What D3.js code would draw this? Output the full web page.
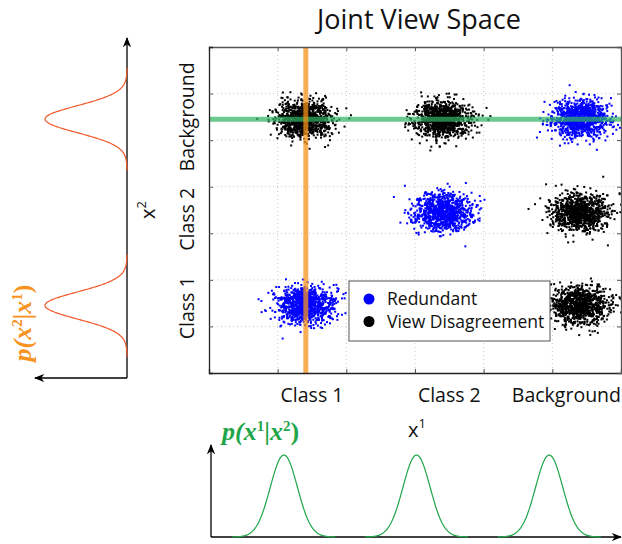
<!DOCTYPE html>
<html>
<head>
<meta charset="utf-8">
<script src="https://cdn.jsdelivr.net/npm/d3@7"></script>
<style>
  html, body { margin: 0; padding: 0; background: #fff; }
  svg { display: block; font-family: "Open Sans", "DejaVu Sans", sans-serif; }
</style>
</head>
<body>
<div id="chart"></div>
<script>
// ---------------- data ----------------
const title = "Joint View Space";
const xCategories = ["Class 1", "Class 2", "Background"];
const yCategories = ["Class 1", "Class 2", "Background"];
const xTickLabelAt = [1.5, 3.5, 5.5];
const yTickLabelAt = [1.4, 3.3, 5.5];
const gridTicks = [1, 2, 3, 4, 5, 6];
// sample clouds: centre (x1, x2), kind
const clusterX = [1.4, 3.4, 5.4, 3.4, 5.4, 1.4, 5.4];
const clusterY = [5.45, 5.45, 5.45, 3.45, 3.45, 1.45, 1.45];
const clusterKind = ["disagree", "disagree", "redundant", "redundant", "disagree", "redundant", "disagree"];
const clusterSigmaX = 0.205;
const clusterSigmaY = 0.195;
const pointsPerCluster = 1000;
const legendLabels = ["Redundant", "View Disagreement"];
const legendKinds = ["redundant", "disagree"];
// conditioning lines
const conditionX1 = 1.41;   // orange vertical line
const conditionX2 = 5.45;   // green horizontal line
// marginal conditional densities
const leftPeaks = [1.45, 5.45];     // p(x2|x1) peaks, in x2 units
const leftSigma = 0.29;
const bottomPeaks = [1.4, 3.4, 5.4]; // p(x1|x2) peaks, in x1 units
const bottomSigma = 0.205;

// ---------------- layout ----------------
const W = 622, H = 544;
const plot = { left: 209, right: 621, top: 47, bottom: 373 };
const kindColor = { redundant: "#0000ff", disagree: "#000000" };

const svg = d3.select("#chart").append("svg").attr("width", W).attr("height", H);

const x = d3.scaleLinear().domain([0, 6]).range([plot.left, plot.right]);
const y = d3.scaleLinear().domain([0, 7]).range([plot.bottom, plot.top]);

// title
svg.append("text").attr("x", 419).attr("y", 29).attr("text-anchor", "middle")
  .attr("font-size", 27).attr("fill", "#111").text(title);

// grid
const g = svg.append("g");
g.selectAll(".vg").data(gridTicks.slice(0, 5)).join("line")
  .attr("x1", d => x(d)).attr("x2", d => x(d)).attr("y1", plot.top).attr("y2", plot.bottom)
  .attr("stroke", "#c8c8c8").attr("stroke-width", 1).attr("stroke-dasharray", "1,3");
g.selectAll(".hg").data(gridTicks).join("line")
  .attr("y1", d => y(d)).attr("y2", d => y(d)).attr("x1", plot.left).attr("x2", plot.right)
  .attr("stroke", "#c8c8c8").attr("stroke-width", 1).attr("stroke-dasharray", "1,3");

// scatter clouds (deterministic seeded normal samples)
svg.append("clipPath").attr("id", "pc").append("rect")
  .attr("x", plot.left).attr("y", plot.top).attr("width", plot.right - plot.left).attr("height", plot.bottom - plot.top);
const pts = [];
clusterX.forEach((cx, i) => {
  const rx = d3.randomNormal.source(d3.randomLcg(0.11 + i * 0.07))(cx, clusterSigmaX);
  const ry = d3.randomNormal.source(d3.randomLcg(0.53 + i * 0.05))(clusterY[i], clusterSigmaY);
  for (let k = 0; k < pointsPerCluster; k++) pts.push({ x: rx(), y: ry(), kind: clusterKind[i] });
});
svg.append("g").attr("clip-path", "url(#pc)").selectAll("rect").data(pts).join("rect")
  .attr("x", d => x(d.x) - 1).attr("y", d => y(d.y) - 1).attr("width", 2).attr("height", 2)
  .attr("fill", d => kindColor[d.kind]);

// conditioning lines
svg.append("line").attr("x1", plot.left).attr("x2", plot.right)
  .attr("y1", y(conditionX2)).attr("y2", y(conditionX2))
  .attr("stroke", "#2fb463").attr("stroke-opacity", 0.72).attr("stroke-width", 5);
svg.append("line").attr("x1", x(conditionX1)).attr("x2", x(conditionX1))
  .attr("y1", plot.top).attr("y2", plot.bottom)
  .attr("stroke", "#f7931e").attr("stroke-opacity", 0.75).attr("stroke-width", 5);

// axes (frame + small inside ticks)
const axB = svg.append("g").attr("transform", `translate(0,${plot.bottom})`)
  .call(d3.axisBottom(x).tickValues(gridTicks.slice(0, 5)).tickSize(-4).tickFormat(""));
const axT = svg.append("g").attr("transform", `translate(0,${plot.top})`)
  .call(d3.axisTop(x).tickValues(gridTicks.slice(0, 5)).tickSize(-4).tickFormat(""));
const axL = svg.append("g").attr("transform", `translate(${plot.left},0)`)
  .call(d3.axisLeft(y).tickValues(gridTicks).tickSize(-4).tickFormat(""));
const axR = svg.append("g").attr("transform", `translate(${plot.right},0)`)
  .call(d3.axisRight(y).tickValues(gridTicks).tickSize(-4).tickFormat(""));
[axB, axT, axL, axR].forEach(a => {
  a.selectAll(".domain").attr("stroke", "#222").attr("stroke-width", 1.3);
  a.selectAll(".tick line").attr("stroke", "#555");
});
axT.selectAll(".domain").attr("stroke", "#555");
axR.selectAll(".domain").attr("stroke", "#555");

// category labels
const xl = svg.selectAll(".xl").data(xCategories).join("text")
  .attr("x", (d, i) => x(xTickLabelAt[i])).attr("y", 402).attr("text-anchor", "middle")
  .attr("font-size", 19.5).attr("fill", "#111").text(d => d);
xl.each(function () {
  const b = this.getBBox();
  if (b.x + b.width > W - 1) d3.select(this).attr("x", +d3.select(this).attr("x") - (b.x + b.width - (W - 1)));
});
svg.selectAll(".yl").data(yCategories).join("text")
  .attr("transform", (d, i) => `translate(194,${y(yTickLabelAt[i])}) rotate(-90)`)
  .attr("text-anchor", "middle").attr("font-size", 19.5).attr("fill", "#111").text(d => d);

// axis names
const t1 = svg.append("text").attr("x", 408).attr("y", 437).attr("font-size", 20).attr("fill", "#111");
t1.append("tspan").text("x");
t1.append("tspan").attr("font-size", 13).attr("dy", -9).text("1");
const t2 = svg.append("text").attr("transform", "translate(155,219) rotate(-90)").attr("font-size", 20).attr("fill", "#111");
t2.append("tspan").text("x");
t2.append("tspan").attr("font-size", 13).attr("dy", -9).text("2");

// legend
const lg = svg.append("g");
lg.append("rect").attr("x", 349).attr("y", 281).attr("width", 201).attr("height", 60)
  .attr("fill", "#fff").attr("stroke", "#555").attr("stroke-width", 1);
legendLabels.forEach((lab, i) => {
  lg.append("circle").attr("cx", 369).attr("cy", 299 + i * 22.5).attr("r", 5.5).attr("fill", kindColor[legendKinds[i]]);
  lg.append("text").attr("x", 387).attr("y", 305 + i * 22.5).attr("font-size", 17.5).attr("fill", "#111").text(lab);
});

// arrow marker
const defs = svg.append("defs");
defs.append("marker").attr("id", "arr").attr("viewBox", "0 0 10 10").attr("refX", 9).attr("refY", 5)
  .attr("markerWidth", 8).attr("markerHeight", 8).attr("orient", "auto-start-reverse")
  .append("path").attr("d", "M0,1 L10,5 L0,9 L3,5 Z").attr("fill", "#000");

function gauss(v, mu, s) { return Math.exp(-0.5 * ((v - mu) / s) ** 2); }

const serif = "'Liberation Serif', 'DejaVu Serif', serif";
function condLabel(sel, a, b) {
  sel.attr("font-family", serif).attr("font-weight", "bold").attr("font-size", 26);
  sel.append("tspan").attr("font-style", "italic").text("p(x");
  sel.append("tspan").attr("font-size", 15).attr("dy", -9).text(a);
  sel.append("tspan").attr("dy", 9).attr("font-style", "normal").text("|");
  sel.append("tspan").attr("font-style", "italic").text("x");
  sel.append("tspan").attr("font-size", 15).attr("dy", -9).text(b);
  sel.append("tspan").attr("dy", 9).text(")");
}

// ---------- left density p(x2|x1) ----------
const leftBase = 127;
const lv = d3.scaleLinear().domain([0, 1]).range([leftBase, 45]);
svg.append("line").attr("x1", leftBase).attr("y1", 378).attr("x2", leftBase).attr("y2", 38)
  .attr("stroke", "#000").attr("stroke-width", 1.3).attr("marker-end", "url(#arr)");
svg.append("line").attr("x1", leftBase).attr("y1", 378).attr("x2", 35).attr("y2", 378)
  .attr("stroke", "#000").attr("stroke-width", 1.3).attr("marker-end", "url(#arr)");
leftPeaks.forEach(mu => {
  const samples = d3.range(-3.8, 3.8001, 0.05).map(t => mu + t * leftSigma);
  svg.append("path").datum(samples)
    .attr("d", d3.line().x(v => lv(gauss(v, mu, leftSigma))).y(v => y(v)).curve(d3.curveBasis))
    .attr("fill", "none").attr("stroke", "#f2592a").attr("stroke-width", 1.2);
});
const ol = svg.append("text").attr("transform", "translate(31,323) rotate(-90)").attr("text-anchor", "middle")
  .attr("fill", "#f7931e");
condLabel(ol, "2", "1");

// ---------- bottom density p(x1|x2) ----------
const xb = d3.scaleLinear().domain([0, 6]).range([191, 589]);
const bottomBase = 537;
const bv = d3.scaleLinear().domain([0, 1]).range([bottomBase, 455]);
svg.append("line").attr("x1", 211).attr("y1", bottomBase).attr("x2", 211).attr("y2", 445)
  .attr("stroke", "#000").attr("stroke-width", 1.3).attr("marker-end", "url(#arr)");
svg.append("line").attr("x1", 211).attr("y1", bottomBase).attr("x2", 621).attr("y2", bottomBase)
  .attr("stroke", "#000").attr("stroke-width", 1.3).attr("marker-end", "url(#arr)");
bottomPeaks.forEach(mu => {
  const samples = d3.range(-3.8, 3.8001, 0.05).map(t => mu + t * bottomSigma);
  svg.append("path").datum(samples)
    .attr("d", d3.line().x(v => xb(v)).y(v => bv(gauss(v, mu, bottomSigma))).curve(d3.curveBasis))
    .attr("fill", "none").attr("stroke", "#1fa64a").attr("stroke-width", 1.2);
});
const gl = svg.append("text").attr("x", 222).attr("y", 440).attr("fill", "#1fa64a");
condLabel(gl, "1", "2");
</script>
</body>
</html>
